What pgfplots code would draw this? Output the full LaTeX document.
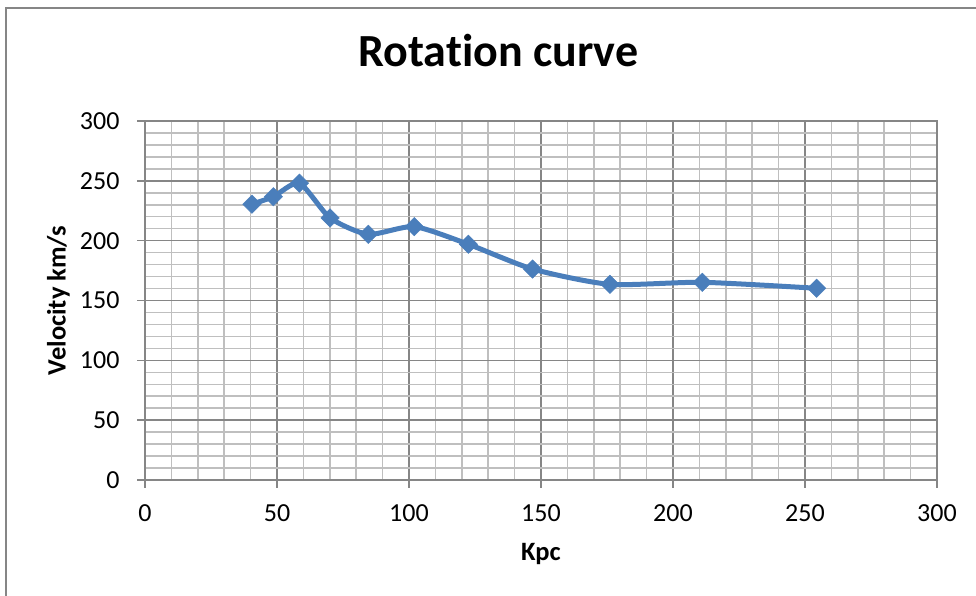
\documentclass[border=0pt]{standalone}
\usepackage{pgfplots}
\pgfplotsset{compat=1.18}
\usepackage{fontspec}
\setmainfont{Carlito}[Ligatures=NoCommon]
\definecolor{majgrid}{HTML}{868686}
\definecolor{mingrid}{HTML}{BFBFBF}
\definecolor{series}{HTML}{4A7EBB}
\begin{document}
\begin{tikzpicture}[x=1bp,y=1bp]
\useasboundingbox (0,0) rectangle (976,596);
\draw[majgrid, line width=1.5bp] (6,-5) -- (6,588) -- (990,588);
\begin{axis}[
  at={(145bp,116bp)}, anchor=south west,
  scale only axis, width=792bp, height=359bp,
  xmin=0, xmax=300, ymin=0, ymax=300,
  xtick={0,50,...,300}, ytick={0,50,...,300},
  minor tick num=4,
  grid=both,
  major grid style={majgrid, line width=1.5bp},
  minor grid style={mingrid, line width=1.5bp},
  axis line style={majgrid, line width=1.5bp},
  tick style={majgrid, line width=1.5bp},
  major tick length=8bp, minor tick length=0pt,
  tick align=outside,
  xtick pos=bottom, ytick pos=left,
  /pgf/number format/assume math mode=true,
  tick label style={font=\fontsize{26bp}{30bp}\selectfont, black},
  yticklabel style={xshift=-14bp},
  xticklabel style={yshift=-13bp},
  title={Rotation curve},
  title style={font=\fontsize{46bp}{52bp}\selectfont\bfseries, at={(axis description cs:0.4463,1.1365)}, anchor=base},
  xlabel={Kpc},
  xlabel style={font=\fontsize{26.5bp}{30bp}\selectfont\bfseries, at={(axis description cs:0.5,-0.2256)}, anchor=base},
  ylabel={Velocity km/s},
  ylabel style={font=\fontsize{26.5bp}{30bp}\selectfont\bfseries, at={(axis description cs:-0.1092,0.5)}, anchor=center, rotate=0},
  clip=false,
]
\addplot[series, line width=5bp, smooth, tension=0.4, mark=square*, mark size=6.5bp,
  mark options={fill=series, draw=series, line width=0.5bp, rotate=45}]
  coordinates {
  (40.5,230.5) (48.6,236.7) (58.5,248) (70.1,219) (84.6,205.3) (102,211.7)
  (122.5,197) (146.8,176.3) (176.1,163.5) (211.1,165.2) (254.4,160.2)
  };
\end{axis}
\end{tikzpicture}
\end{document}
